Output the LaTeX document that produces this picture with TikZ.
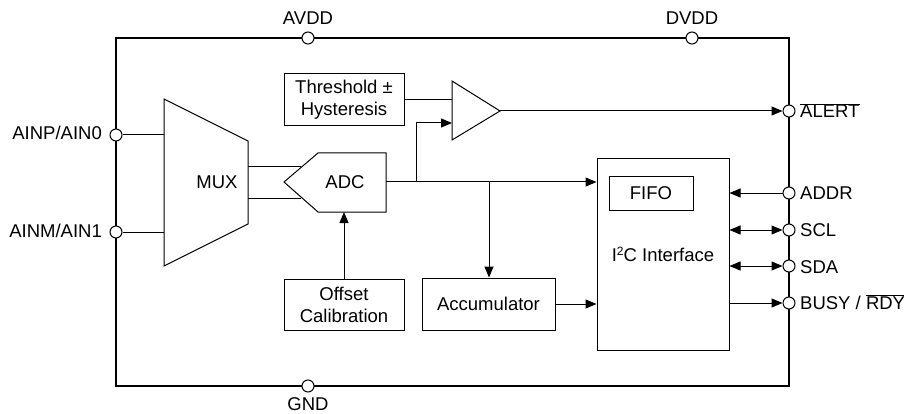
\documentclass[tikz,border=0pt]{standalone}
\usepackage{fontspec}
\setmainfont{Liberation Sans}
\usetikzlibrary{arrows.meta}
\begin{document}
\begin{tikzpicture}[x=1pt,y=-1pt,
  font=\fontsize{18.5}{22}\selectfont,
  blk/.style={draw, line width=1pt, align=center, inner sep=0pt},
  pin/.style={circle, draw, line width=1pt, fill=white, minimum size=12pt, inner sep=0pt},
  wire/.style={line width=1pt},
  arr/.style={wire, -{Triangle[length=11pt,width=9pt]}},
  darr/.style={wire, {Triangle[length=11pt,width=9pt]}-{Triangle[length=11pt,width=9pt]}},
  lbl/.style={inner sep=0pt}]
\useasboundingbox (0,0) rectangle (904,414);
% outer frame
\draw[line width=2pt] (116,38) rectangle (789,386);
% blocks
\node[blk, minimum width=120pt, minimum height=52pt] (thr) at (344,100) {Threshold ±\\Hysteresis};
\node[blk, minimum width=120pt, minimum height=51pt] (off) at (344,304.5) {Offset\\Calibration};
\node[blk, minimum width=133pt, minimum height=52pt] (acc) at (488.5,304) {Accumulator};
\node[blk, minimum width=132pt, minimum height=191pt] (i2c) at (663,254.5) {I\textsuperscript{\fontsize{12}{12}\selectfont 2}\kern-0.5pt C Interface};
\node[blk, minimum width=84pt, minimum height=33pt] (fifo) at (651,193.5) {FIFO};
% MUX
\draw[wire] (164,99) coordinate (muxtl) -- (248,141) -- (248,224) -- (164,266) -- cycle;
\node[lbl] (mux) at (217,182) {MUX};
% ADC
\draw[wire] (284,182) coordinate (adctip) -- (318,153) -- (386,153) -- (386,212) coordinate (adcbr) -- (318,212) -- cycle;
\node[lbl] (adc) at (345,182) {ADC};
\coordinate (adcout) at (386,182);
\coordinate (adcbot) at (344,212);
% comparator
\draw[wire] (452,81) -- (500,111) coordinate (cmpout) -- (452,140) -- cycle;
\coordinate (cmpin1) at (452,100);
\coordinate (cmpin2) at (452,123);
% pins
\node[pin] (avdd) at (308,38) {};
\node[pin] (dvdd) at (692,38) {};
\node[pin] (gnd) at (308,386) {};
\node[pin] (ainp) at (116,135) {};
\node[pin] (ainm) at (116,232) {};
\node[pin] (alert) at (789,111) {};
\node[pin] (addr) at (789,193) {};
\node[pin] (scl) at (789,230) {};
\node[pin] (sda) at (789,266) {};
\node[pin] (busy) at (789,303) {};
% pin labels
\node[lbl, anchor=base] (lavdd) at (308,25) {AVDD};
\node[lbl, anchor=base] (ldvdd) at (692,25) {DVDD};
\node[lbl, anchor=base] (lgnd) at (308,410) {GND};
\node[lbl, anchor=base east] (lainp) at (102,140) {AINP/AIN0};
\node[lbl, anchor=base east] (lainm) at (102,237) {AINM/AIN1};
\node[lbl, anchor=base west] (lalert) at (800,118) {$\overline{\mbox{ALERT}}$};
\node[lbl, anchor=base west] (laddr) at (800,200) {ADDR};
\node[lbl, anchor=base west] (lscl) at (800,236) {SCL};
\node[lbl, anchor=base west] (lsda) at (800,273) {SDA};
\node[lbl, anchor=base west] (lbusy) at (800,309) {BUSY / $\overline{\mbox{RDY}}$};
% connectors
\draw[wire] (ainp) -- (164,135);
\draw[wire] (ainm) -- (164,232);
\draw[wire] (248,167) -- (301,167);
\draw[wire] (248,198) -- (301,198);
\draw[wire] (thr.east) -- (cmpin1);
\draw[arr] (adcout) -- (adcout -| i2c.west);
\draw[arr] (416,182) -- (416,123) -- (cmpin2);
\draw[arr] (489,182) -- (acc.north -| 489,0);
\draw[arr] (cmpout) -- (alert);
\draw[arr] (off.north) -- (adcbot);
\draw[arr] (acc.east) -- (acc.east -| i2c.west);
\draw[arr] (addr) -- (addr -| i2c.east);
\draw[darr] (scl -| i2c.east) -- (scl);
\draw[darr] (sda -| i2c.east) -- (sda);
\draw[arr] (busy -| i2c.east) -- (busy);
\end{tikzpicture}
\end{document}
